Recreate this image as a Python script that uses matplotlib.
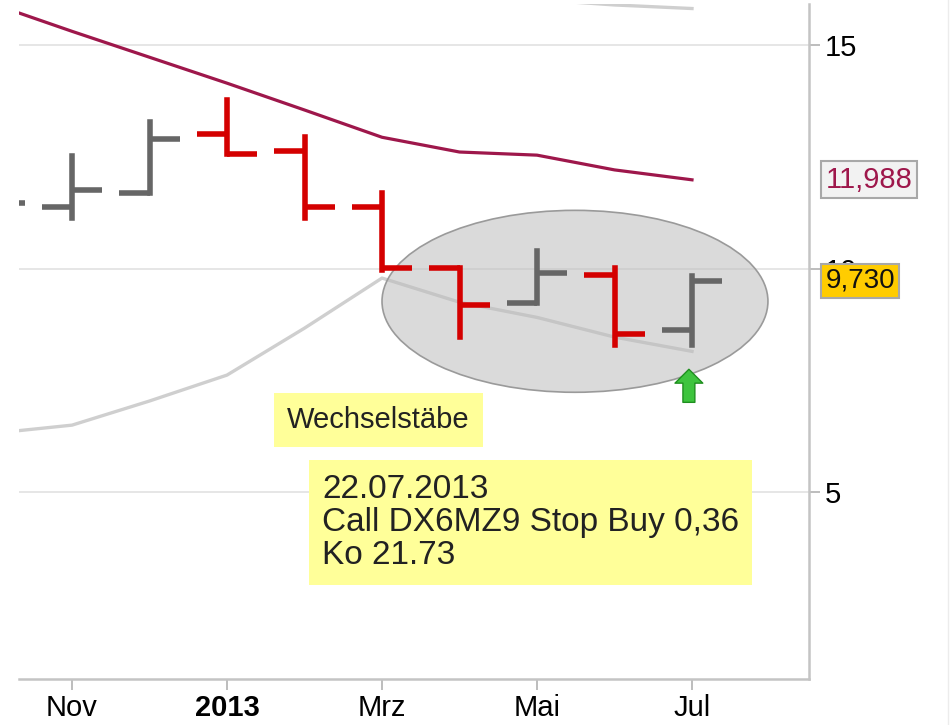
import numpy as np
import matplotlib
matplotlib.use('Agg')
import matplotlib.pyplot as plt
from matplotlib.patches import Ellipse
from matplotlib.lines import Line2D

plt.rcParams['font.family'] = ['Liberation Sans', 'DejaVu Sans']

# Monatsbalken, Index 0 = Okt 2012 ... 9 = Jul 2013
months = np.arange(10)
open_ = [11.00, 11.38, 11.69, 13.01, 12.63, 11.38, 10.01, 9.23, 9.85, 8.62]
high = [11.60, 12.52, 13.28, 13.77, 12.94, 11.69, 10.01, 10.39, 10.01, 9.83]
low = [10.90, 11.13, 11.69, 12.56, 11.13, 9.97, 8.47, 9.23, 8.29, 8.29]
close = [11.47, 11.76, 12.90, 12.56, 11.38, 10.01, 9.18, 9.90, 8.53, 9.73]

# Linien (Durchschnitt / Baender)
ma_line = [15.91, 15.31, 14.73, 14.15, 13.55, 12.94, 12.61, 12.54, 12.21, 11.988]
lower_line = [6.32, 6.50, 7.04, 7.62, 8.67, 9.79, 9.25, 8.91, 8.47, 8.15]
upper_line = [np.nan] * 6 + [16.30, 16.02, 15.90, 15.82]

tick_pos = [1, 3, 5, 7, 9]
tick_labels = ['Nov', '2013', 'Mrz', 'Mai', 'Jul']

fig = plt.figure(figsize=(9.51, 7.25), dpi=100)
ax = fig.add_axes([0.020, 0.0634, 0.8307, 0.931])

ax.set_xlim(0.316, 10.51)
ax.set_ylim(0.82, 15.92)

# Gitter
ax.set_yticks([5, 10, 15])
ax.grid(axis='y', color='#e4e4e4', lw=1.3)
ax.set_axisbelow(True)

# graue Baender
ax.plot(months, lower_line, color='#cfcfcf', lw=2.4, zorder=1.5)
ax.plot(months, upper_line, color='#cfcfcf', lw=2.4, zorder=1.5)

# Ellipse
ell = Ellipse((7.49, 9.27), 4.98, 4.07, facecolor=(0.74, 0.74, 0.74, 0.55),
              edgecolor='#9a9a9a', lw=1.2, zorder=2)
ax.add_patch(ell)

# Durchschnittslinie
ax.plot(months, ma_line, color='#9e174b', lw=2.3, zorder=3)

# Balken
o = np.array(open_)
c = np.array(close)
cols = np.where(c >= o, '#666666', '#d40000')
w = 0.39
vl = ax.vlines(months, low, high, colors=cols, lw=4, zorder=4)
vl.set_capstyle('projecting')
ax.hlines(o, months - w, months, colors=cols, lw=4, zorder=4)
ax.hlines(c, months, months + w, colors=cols, lw=4, zorder=4)

# Pfeil
ax.annotate('', xy=(8.96, 7.75), xytext=(8.96, 7.01),
            arrowprops=dict(arrowstyle='simple,head_length=0.5,head_width=1.0,tail_width=0.43',
                            fc='#3ec43e', ec='#1f8f1f', lw=1, shrinkA=0, shrinkB=0,
                            mutation_scale=20), zorder=5)

# Textboxen
ax.text(0.339, 0.384, 'Wechselstäbe', transform=ax.transAxes, fontsize=21,
        va='center', ha='left', color='#222222',
        bbox=dict(boxstyle='square,pad=0.45', fc='#ffff99', ec='none'), zorder=6)
ax.text(0.3835, 0.232, '22.07.2013\nCall DX6MZ9 Stop Buy 0,36\nKo 21.73',
        transform=ax.transAxes, fontsize=24, va='center', ha='left',
        linespacing=1.1, color='#222222',
        bbox=dict(boxstyle='square,pad=0.4', fc='#ffff99', ec='none'), zorder=6)

# Achsen
for s in ['left', 'top']:
    ax.spines[s].set_visible(False)
for s in ['bottom', 'right']:
    ax.spines[s].set_color('#c4c4c4')
    ax.spines[s].set_linewidth(1.8)

ax.yaxis.tick_right()
ax.tick_params(axis='y', direction='out', length=8, width=1.3, color='#b8b8b8',
               labelsize=21, pad=3)
ax.set_xticks(tick_pos)
ax.set_xticklabels(tick_labels)
ax.tick_params(axis='x', direction='out', length=8, width=1.3, color='#b8b8b8',
               labelsize=21, pad=3)
ax.get_xticklabels()[1].set_fontweight('bold')

# Kursmarken rechts
yt = ax.get_yaxis_transform()
ax.text(1.021, 11.988, '11,988', transform=yt, fontsize=21, va='center', ha='left',
        color='#9e174b', clip_on=False, zorder=7,
        bbox=dict(boxstyle='square,pad=0.15', fc='#f2f2f2', ec='#a8a8a8', lw=1.5))
ax.text(1.021, 9.73, '9,730', transform=yt, fontsize=20, va='center', ha='left',
        color='#111111', clip_on=False, zorder=7,
        bbox=dict(boxstyle='square,pad=0.15', fc='#ffcc00', ec='#a8a8a8', lw=1.5))

fig.add_artist(Line2D([0.997, 0.997], [0, 1], color='#ececec', lw=1))

fig.savefig('out.png', dpi=100)
